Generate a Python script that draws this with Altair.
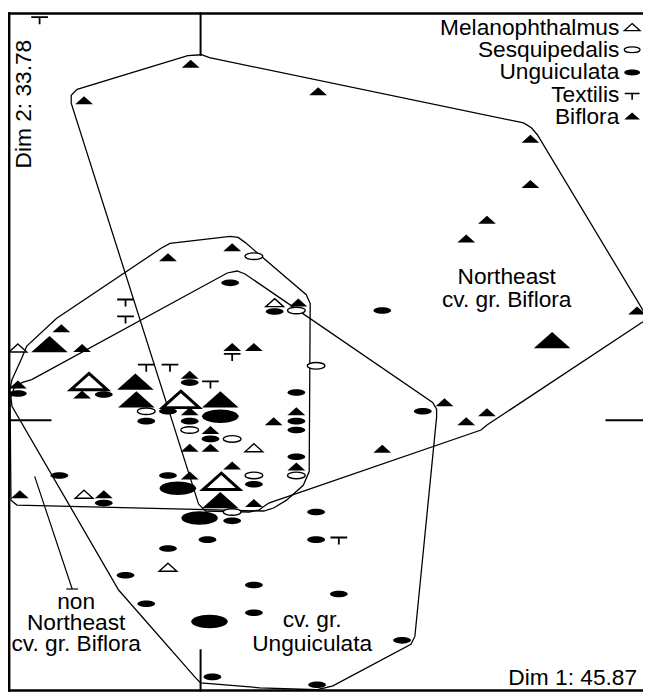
import altair as alt
import pandas as pd

# ---------------- data: (Dim 1, Dim 2) positions, n = weight of the point
bif_x = [-0.10, -1.18, 1.19, 3.34, 3.34, 2.90, 2.69, 4.42, -0.33, 0.32, 0.99, -1.41, -1.20, -1.85,
         -1.20, -0.11, 0.32, 0.54, -0.11, 0.10, -0.11, 0.10, 0.74, 0.97, 0.97, 0.32, -0.11, 0.54,
         -1.83, -0.98, 2.47, 2.69, 2.90, 1.84,
         3.56, -1.53, -0.66, -0.65, 0.20, 0.20]
bif_y = [3.61, 3.24, 3.33, 2.85, 2.39, 2.03, 1.84, 1.11, 1.65, 1.75, 1.19, 0.93, 0.73, 0.36,
         0.26, 0.46, 0.74, 0.74, 0.09, -0.10, -0.28, -0.28, -0.01, 0.09, -0.47, -0.46, -0.56, -0.84,
         -0.75, -0.75, 0.18, -0.01, 0.08, -0.29,
         0.81, 0.77, 0.39, 0.21, 0.21, -0.81]
bif_n = [1] * 34 + [4] * 6

mel_x = [0.75, -1.85, 0.54, -1.18, -0.33, -1.13, -0.20, 0.21]
mel_y = [1.19, 0.73, -0.28, -0.75, -1.49, 0.39, 0.21, -0.62]
mel_n = [1, 1, 1, 1, 1, 4, 4, 4]

ses_x = [0.54, 0.97, 1.17, -0.55, -0.11, 0.32, 0.54, 0.97, 0.32]
ses_y = [1.66, 1.11, 0.55, 0.09, -0.10, -0.19, -0.56, -0.56, -0.93]
ses_n = [1] * 9

ung_x = [1.84, 0.30, 0.75, -1.85, -0.98, -0.11, -0.33, -0.55, -0.11, 0.10, 0.97, 0.97, 0.97, 0.97,
         -0.33, 0.54, 0.32, -1.43, -0.98, 0.07, -0.33, -0.76, 0.54, -0.55, 0.54, 0.12, 1.18, 1.17,
         1.17, 1.40, 2.04, 2.25,
         0.20, -0.23, -0.01, 0.09]
ung_y = [1.11, 1.39, 1.10, 0.27, 0.26, 0.38, 0.09, -0.01, -0.01, -0.19, 0.28, -0.01, -0.10, -0.37,
         -0.56, -0.65, -1.02, -0.56, -0.84, -1.21, -1.30, -1.57, -1.67, -1.86, -1.95, -2.60, -2.68, -0.93,
         -1.21, -1.76, -2.23, 0.09,
         0.04, -0.69, -0.99, -2.04]
ung_n = [1] * 32 + [4] * 4

tex_x = [-1.63, -0.76, -0.76, -0.55, -0.31, 0.10, 0.32, 1.40]
tex_y = [4.05, 1.19, 1.02, 0.53, 0.53, 0.36, 0.64, -1.22]
tex_n = [1] * 8

# group hulls (outline vertices)
hullA_x = [-0.02, -1.31, -1.31, -1.25, -0.13, 0.01, 0.09, 3.27, 3.35, 3.41, 4.53, 2.90, 2.84, 0.69, 0.59, 0.49, 0.05, -0.02]
hullA_y = [-0.85, 3.21, 3.29, 3.35, 3.69, 3.70, 3.67, 3.01, 2.96, 2.89, 1.03, -0.05, -0.10, -0.84, -0.91, -0.93, -0.92, -0.85]
hullB_x = [-1.91, -1.81, -1.76, -1.46, -0.40, -0.31, 0.30, 0.38, 0.45, 1.07, 1.11, 1.10, 1.04, 0.87, 0.74, 0.64, -1.86, -1.92, -1.93, -1.91]
hullB_y = [0.41, 0.63, 0.75, 1.03, 1.74, 1.79, 1.86, 1.85, 1.80, 1.27, 1.18, -0.52, -0.66, -0.81, -0.89, -0.92, -0.86, -0.81, 0.31, 0.41]
hullC_x = [-1.71, 0.27, 0.37, 0.45, 2.35, 2.39, 2.39, 2.17, 2.13, 1.34, 1.18, 0.60, 0.00, -0.05, -0.83, -1.91, -1.92, -1.89, -1.81, -1.71]
hullC_y = [0.41, 1.49, 1.51, 1.48, 0.18, 0.11, 0.03, -2.19, -2.27, -2.69, -2.73, -2.71, -2.66, -2.61, -1.72, 0.14, 0.23, 0.32, 0.38, 0.41]

# label pointer ("non Northeast ...")
ptr_x = [-1.68, -1.30, -1.36, -1.24]
ptr_y = [-0.57, -1.71, -1.71, -1.71]
ptr_g = ["a", "a", "b", "b"]

# axis stubs through the origin (segment end values)
stub_x = [0, 0, 0, 0, -1.95, -1.51, 4.10, 4.48]
stub_y = [3.69, 4.13, -2.32, -2.75, 0, 0, 0, 0]
stub_g = ["t", "t", "b", "b", "l", "l", "r", "r"]

species_names = ["Melanophthalmus", "Sesquipedalis", "Unguiculata", "Textilis", "Biflora"]
dim1_label = "Dim 1: 45.87"
dim2_label = "Dim 2: 33.78"

# ---------------- tables
rows = []
for sp, xs_, ys_, ns in [("Biflora", bif_x, bif_y, bif_n), ("Melanophthalmus", mel_x, mel_y, mel_n),
                         ("Sesquipedalis", ses_x, ses_y, ses_n), ("Unguiculata", ung_x, ung_y, ung_n),
                         ("Textilis", tex_x, tex_y, tex_n)]:
    for a, b, c in zip(xs_, ys_, ns):
        rows.append({"species": sp, "x": a, "y": b, "n": c})
pts = pd.DataFrame(rows)

hrows = []
for name, xs_, ys_ in [("A", hullA_x, hullA_y), ("B", hullB_x, hullB_y), ("C", hullC_x, hullC_y)]:
    for i, (a, b) in enumerate(zip(xs_, ys_)):
        hrows.append({"hull": name, "i": i, "x": a, "y": b})
hulls = pd.DataFrame(hrows)
ptr = pd.DataFrame({"x": ptr_x, "y": ptr_y, "g": ptr_g, "i": list(range(len(ptr_x)))})
stubs = pd.DataFrame({"x": stub_x, "y": stub_y, "g": stub_g, "i": list(range(len(stub_x)))})

# ---------------- shapes
TRI = "M0,-0.45L1,0.45L-1,0.45Z"
k, ry = 0.5523, 0.37
ELL = (f"M1,0C1,{ry*k:.3f} {k},{ry} 0,{ry}C{-k},{ry} -1,{ry*k:.3f} -1,0"
       f"C-1,{-ry*k:.3f} {-k},{-ry} 0,{-ry}C{k},{-ry} 1,{-ry*k:.3f} 1,0Z")
TEE = "M-0.94,-0.35L0.94,-0.35M0,-0.35L0,0.45"

W, H = 643, 688
xs = alt.Scale(domain=[-1.95, 4.48], nice=False, zero=False)
ys = alt.Scale(domain=[-2.75, 4.13], nice=False, zero=False)
X = alt.X("x:Q", scale=xs, axis=None)
Y = alt.Y("y:Q", scale=ys, axis=None)
SIZE = alt.Size("n:Q", scale=alt.Scale(domain=[1, 4], range=[324, 1369]), legend=None)
FONT = "Liberation Sans"
FS = 23

layers = []
layers.append(alt.Chart(hulls).mark_line(color="black", strokeWidth=1.3, clip=True).encode(
    x=X, y=Y, detail="hull:N", order="i:Q"))
layers.append(alt.Chart(ptr).mark_line(color="black", strokeWidth=1.2).encode(
    x=X, y=Y, detail="g:N", order="i:Q"))
layers.append(alt.Chart(stubs).mark_line(color="black", strokeWidth=2).encode(
    x=X, y=Y, detail="g:N", order="i:Q"))

dummy = pd.DataFrame({"d": [0]})
# frame (left, top, bottom)
layers.append(alt.Chart(dummy).mark_rule(color="black", strokeWidth=2.5).encode(
    x=alt.value(1.2), y=alt.value(0), y2=alt.value(H)))
layers.append(alt.Chart(dummy).mark_rule(color="black", strokeWidth=2.5).encode(
    y=alt.value(1.2), x=alt.value(0), x2=alt.value(W)))
layers.append(alt.Chart(dummy).mark_rule(color="black", strokeWidth=2.5).encode(
    y=alt.value(H - 1.2), x=alt.value(0), x2=alt.value(W)))


def sel(s):
    return alt.datum.species == s


layers.append(alt.Chart(pts).transform_filter(sel("Biflora")).mark_point(
    shape=TRI, filled=True, color="black", opacity=1, strokeWidth=0, clip=True).encode(x=X, y=Y, size=SIZE))
layers.append(alt.Chart(pts).transform_filter(sel("Unguiculata")).mark_point(
    shape=ELL, filled=True, color="black", opacity=1, strokeWidth=0, clip=True).encode(x=X, y=Y, size=SIZE))
layers.append(alt.Chart(pts).transform_filter(sel("Melanophthalmus")).mark_point(
    shape=TRI, filled=True, fill="white", stroke="black", opacity=1).encode(
    x=X, y=Y, size=SIZE,
    strokeWidth=alt.StrokeWidth("n:Q", scale=alt.Scale(domain=[1, 4], range=[1.4, 3]), legend=None)))
layers.append(alt.Chart(pts).transform_filter(sel("Sesquipedalis")).mark_point(
    shape=ELL, filled=True, fill="white", stroke="black", strokeWidth=1.4, opacity=1).encode(
    x=X, y=Y, size=SIZE))
layers.append(alt.Chart(pts).transform_filter(sel("Textilis")).mark_point(
    shape=TEE, filled=False, stroke="black", strokeWidth=1.8, opacity=1).encode(x=X, y=Y, size=SIZE))

# legend (top right)
leg_text_y = [23, 45.5, 68, 90.5, 113]
leg_sym_y = [15, 38, 61, 85, 105]
leg_style = {
    "Melanophthalmus": dict(shape=TRI, filled=True, fill="white", stroke="black", strokeWidth=1.3),
    "Sesquipedalis": dict(shape=ELL, filled=True, fill="white", stroke="black", strokeWidth=1.3),
    "Unguiculata": dict(shape=ELL, filled=True, fill="black", strokeWidth=0),
    "Textilis": dict(shape=TEE, filled=False, stroke="black", strokeWidth=1.6),
    "Biflora": dict(shape=TRI, filled=True, fill="black", strokeWidth=0),
}
leg = pd.DataFrame({"name": species_names})
for j, nm in enumerate(species_names):
    layers.append(alt.Chart(leg).transform_filter(alt.datum.name == nm).mark_text(
        font=FONT, fontSize=FS, align="right", baseline="alphabetic", color="black").encode(
        x=alt.value(619), y=alt.value(leg_text_y[j]), text="name:N"))
    layers.append(alt.Chart(leg).transform_filter(alt.datum.name == nm).mark_point(
        size=256, opacity=1, **leg_style[nm]).encode(x=alt.value(632), y=alt.value(leg_sym_y[j])))


def label(txt, x, y, align="center", angle=0, baseline="alphabetic"):
    return alt.Chart(dummy).mark_text(font=FONT, fontSize=FS, align=align, baseline=baseline,
                                      angle=angle, color="black").encode(
        x=alt.value(x), y=alt.value(y), text=alt.value(txt))


layers += [
    label(dim2_label, 16, 93, angle=270, baseline="middle"),
    label(dim1_label, 637, 681, align="right"),
    label("Northeast", 505, 275), label("cv. gr. Biflora", 505, 298),
    label("non", 69, 604), label("Northeast", 69, 626), label("cv. gr. Biflora", 69, 647),
    label("cv. gr.", 308, 622), label("Unguiculata", 308, 647),
]

chart = alt.layer(*layers).properties(width=W, height=H, padding=0, autosize="none").configure_view(stroke=None)
chart.save("out.html", embed_options={"renderer": "svg", "actions": False})
